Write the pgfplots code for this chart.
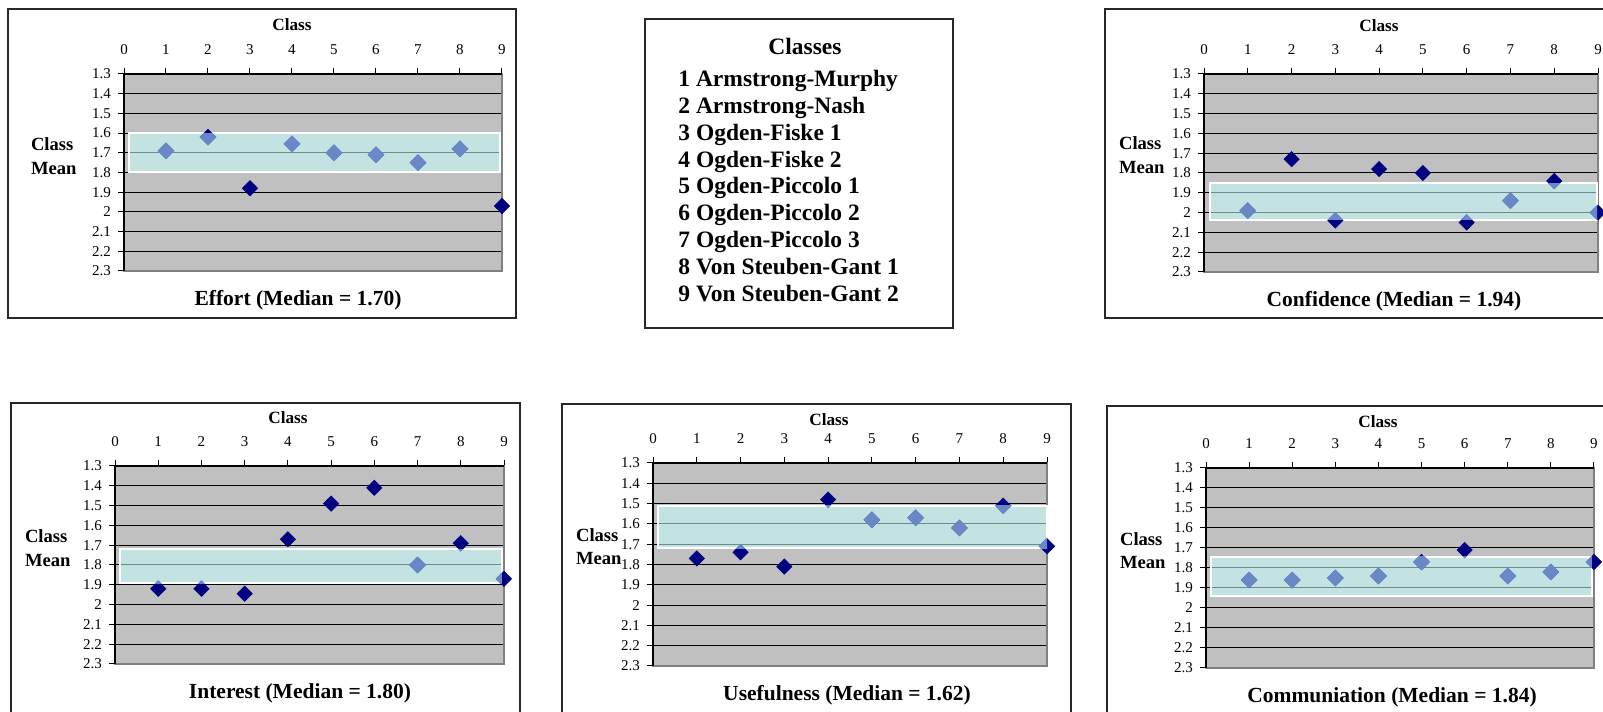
\documentclass[border=0pt]{standalone}
\usepackage{pgfplots}
\pgfplotsset{compat=1.18}
\usepackage{fontspec}
\setmainfont{Liberation Serif}
\definecolor{navy}{RGB}{0,0,128}
\definecolor{lightm}{RGB}{106,135,200}
\definecolor{plotgray}{RGB}{192,192,192}
\definecolor{bordergray}{RGB}{128,128,128}
\definecolor{bandc}{RGB}{199,254,254}
\definecolor{framec}{RGB}{40,40,40}

\pgfplotsset{panel/.style={
  scale only axis, anchor=north west,
  xmin=0, xmax=9, ymin=1.3, ymax=2.3, y dir=reverse,
  xtick={0,1,2,3,4,5,6,7,8,9},
  ytick={1.3,1.4,1.5,1.6,1.7,1.8,1.9,2,2.1,2.2,2.3},
  xtick pos=right, xticklabel pos=right, ytick pos=left,
  tick align=outside, major tick length=3pt,
  tick style={black, line width=0.5pt},
  /pgf/number format/assume math mode=true,
  tick label style={font=\fontsize{7.5}{9}\selectfont},
  xticklabel style={yshift=3pt},
  ymajorgrids, major grid style={black, line width=0.5pt},
  axis background/.style={fill=plotgray},
  axis line style={draw=bordergray, line width=1.4pt},
  clip=false, clip marker paths=true,
}}

\newcommand{\panel}[9]{%
\begin{axis}[panel, at={(#1pt,#2pt)}, width=#3pt, height=#4pt]
\fill[bandc, fill opacity=0.55] (axis cs:#5,#7) rectangle (axis cs:#6,#8);
\draw[white, line width=1pt] (axis cs:#5,#7) rectangle (axis cs:#6,#8);
\addplot[only marks, color=navy, mark=square*, mark size=2.7pt, mark options={rotate=45, draw=navy, fill=navy, line width=0.3pt}] coordinates {#9};
\begin{scope}
\clip (axis cs:#5,#7) rectangle (axis cs:#6,#8);
\addplot[only marks, color=lightm, mark=square*, mark size=2.85pt, mark options={rotate=45, draw=lightm, fill=lightm, line width=0.3pt}] coordinates {#9};
\end{scope}
\draw[black, line width=0.6pt] (axis cs:0,2.3) -- (axis cs:0,1.3) -- (axis cs:9,1.3);
\end{axis}}

\newcommand{\toptitle}{\fontsize{8.6}{10}\selectfont\bfseries}
\newcommand{\sidetitle}{\fontsize{9.3}{11}\selectfont\bfseries}
\newcommand{\bottitle}{\fontsize{10.75}{12}\selectfont\bfseries}

\begin{document}
\begin{tikzpicture}
\useasboundingbox (0,0) rectangle (801.5pt,356pt);
\fill[white] (0,0) rectangle (801.5pt,356pt);

% frames
\draw[framec, line width=0.6pt] (4pt,197pt) rectangle (258pt,351.5pt);
\draw[framec, line width=0.6pt] (322.5pt,192pt) rectangle (476.5pt,346.5pt);
\draw[framec, line width=0.6pt] (552.5pt,197pt) rectangle (810pt,351.5pt);
\draw[framec, line width=0.6pt] (5.5pt,-5pt) rectangle (260pt,154.5pt);
\draw[framec, line width=0.6pt] (281pt,-5pt) rectangle (535.5pt,154pt);
\draw[framec, line width=0.6pt] (553.5pt,-5pt) rectangle (810pt,153pt);

% Effort
\panel{62}{319}{189}{98.5}{0.11}{8.96}{1.60}{1.795}{(1,1.69) (2,1.62) (3,1.88) (4,1.655) (5,1.70) (6,1.71) (7,1.75) (8,1.68) (9,1.97)}
\node[font=\toptitle] at (146pt,343.5pt) {Class};
\node[font=\sidetitle, anchor=west] at (12pt,284pt) {Class};
\node[font=\sidetitle, anchor=west] at (12pt,271.5pt) {Mean};
\node[font=\bottitle] at (149pt,206pt) {Effort (Median = 1.70)};

% Confidence
\panel{602}{319}{197}{99}{0.14}{8.98}{1.853}{2.035}{(1,1.99) (2,1.73) (3,2.04) (4,1.78) (5,1.80) (6,2.05) (7,1.94) (8,1.84) (9,2.00)}
\node[font=\toptitle] at (689.5pt,343pt) {Class};
\node[font=\sidetitle, anchor=west] at (556pt,284.5pt) {Class};
\node[font=\sidetitle, anchor=west] at (556pt,272pt) {Mean};
\node[font=\bottitle] at (697pt,205.5pt) {Confidence (Median = 1.94)};

% Interest
\panel{57.5}{123}{194.5}{99}{0.12}{8.95}{1.72}{1.892}{(1,1.92) (2,1.92) (3,1.945) (4,1.67) (5,1.49) (6,1.41) (7,1.80) (8,1.69) (9,1.87)}
\node[font=\toptitle] at (144pt,147pt) {Class};
\node[font=\sidetitle, anchor=west] at (9pt,88pt) {Class};
\node[font=\sidetitle, anchor=west] at (9pt,75.5pt) {Mean};
\node[font=\bottitle] at (150pt,9.5pt) {Interest (Median = 1.80)};

% Usefulness
\panel{326.5}{124.5}{197}{101.5}{0.11}{9.0}{1.51}{1.72}{(1,1.77) (2,1.74) (3,1.81) (4,1.48) (5,1.58) (6,1.57) (7,1.62) (8,1.51) (9,1.71)}
\node[font=\toptitle] at (414.5pt,146pt) {Class};
\node[font=\sidetitle, anchor=west] at (284.5pt,88.5pt) {Class};
\node[font=\sidetitle, anchor=west] at (284.5pt,76.5pt) {Mean};
\node[font=\bottitle] at (423.5pt,8.5pt) {Usefulness (Median = 1.62)};

% Communication
\panel{603}{122}{194}{100}{0.12}{8.95}{1.745}{1.94}{(1,1.86) (2,1.86) (3,1.85) (4,1.84) (5,1.77) (6,1.71) (7,1.84) (8,1.82) (9,1.77)}
\node[font=\toptitle] at (689pt,145pt) {Class};
\node[font=\sidetitle, anchor=west] at (556.5pt,86.5pt) {Class};
\node[font=\sidetitle, anchor=west] at (556.5pt,74.5pt) {Mean};
\node[font=\bottitle] at (696pt,7.5pt) {Communiation (Median = 1.84)};

% Legend box
\node[font=\fontsize{11.75}{13.4}\selectfont\bfseries] at (402.5pt,333pt) {Classes};
\node[font=\fontsize{11.75}{13.4}\selectfont\bfseries, anchor=north west, align=left, inner sep=0pt] at (339pt,321pt) {1 Armstrong-Murphy\\2 Armstrong-Nash\\3 Ogden-Fiske 1\\4 Ogden-Fiske 2\\5 Ogden-Piccolo 1\\6 Ogden-Piccolo 2\\7 Ogden-Piccolo 3\\8 Von Steuben-Gant 1\\9 Von Steuben-Gant 2};
\end{tikzpicture}
\end{document}
